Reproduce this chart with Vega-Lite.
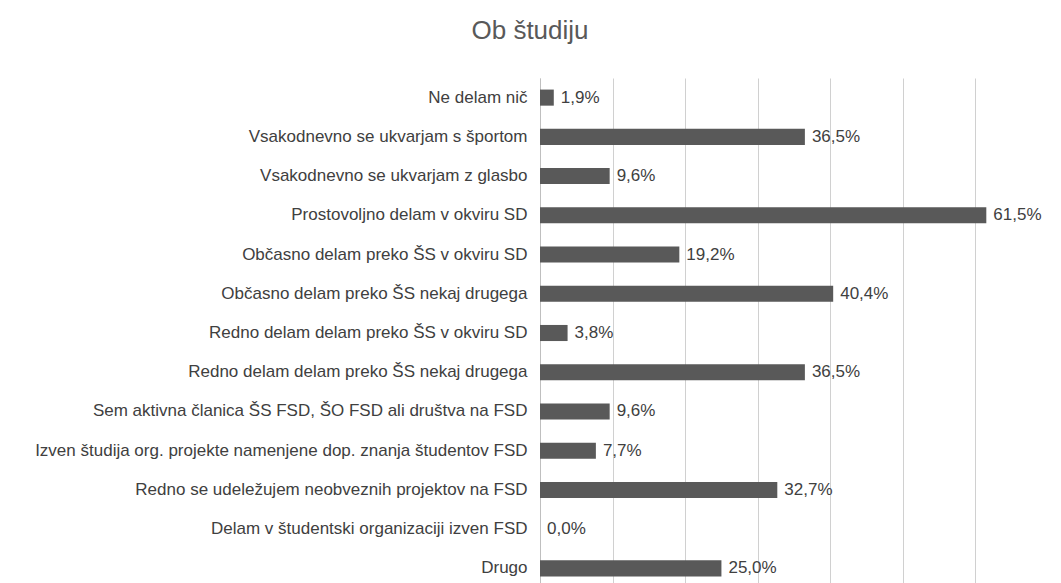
{
  "$schema": "https://vega.github.io/schema/vega-lite/v6.json",
  "autosize": {"type": "none"},
  "padding": {"left": 540, "top": 78, "right": 0, "bottom": 0},
  "width": 508,
  "height": 510,
  "background": "white",
  "title": {
    "text": "Ob študiju",
    "anchor": "middle",
    "dx": -264,
    "offset": 34,
    "fontSize": 26,
    "fontWeight": "normal",
    "font": "Liberation Sans",
    "color": "#595959"
  },
  "data": {
    "values": [
      {"kategorija": "Ne delam nič", "delez": 1.9, "oznaka": "1,9%"},
      {"kategorija": "Vsakodnevno se ukvarjam s športom", "delez": 36.5, "oznaka": "36,5%"},
      {"kategorija": "Vsakodnevno se ukvarjam z glasbo", "delez": 9.6, "oznaka": "9,6%"},
      {"kategorija": "Prostovoljno delam v okviru SD", "delez": 61.5, "oznaka": "61,5%"},
      {"kategorija": "Občasno delam preko ŠS v okviru SD", "delez": 19.2, "oznaka": "19,2%"},
      {"kategorija": "Občasno delam preko ŠS nekaj drugega", "delez": 40.4, "oznaka": "40,4%"},
      {"kategorija": "Redno delam delam preko ŠS v okviru SD", "delez": 3.8, "oznaka": "3,8%"},
      {"kategorija": "Redno delam delam preko ŠS nekaj drugega", "delez": 36.5, "oznaka": "36,5%"},
      {"kategorija": "Sem aktivna članica ŠS FSD, ŠO FSD ali društva na FSD", "delez": 9.6, "oznaka": "9,6%"},
      {"kategorija": "Izven študija org. projekte namenjene dop. znanja študentov FSD", "delez": 7.7, "oznaka": "7,7%"},
      {"kategorija": "Redno se udeležujem neobveznih projektov na FSD", "delez": 32.7, "oznaka": "32,7%"},
      {"kategorija": "Delam v študentski organizaciji izven FSD", "delez": 0.0, "oznaka": "0,0%"},
      {"kategorija": "Drugo", "delez": 25.0, "oznaka": "25,0%"}
    ]
  },
  "encoding": {
    "y": {
      "field": "kategorija",
      "type": "nominal",
      "sort": null,
      "scale": {"paddingInner": 0.59, "paddingOuter": 0.295},
      "axis": {
        "title": null,
        "ticks": false,
        "domain": true,
        "domainColor": "#bfbfbf",
        "labelFont": "Liberation Sans",
        "labelFontSize": 17,
        "labelColor": "#404040",
        "labelPadding": 13,
        "labelLimit": 600
      }
    },
    "x": {
      "field": "delez",
      "type": "quantitative",
      "scale": {"domain": [0, 70], "nice": false},
      "axis": {
        "title": null,
        "labels": false,
        "ticks": false,
        "domain": false,
        "values": [0, 10, 20, 30, 40, 50, 60, 70],
        "grid": true,
        "gridColor": "#d0d0d0",
        "gridWidth": 1
      }
    }
  },
  "layer": [
    {"mark": {"type": "bar", "color": "#595959"}},
    {
      "mark": {
        "type": "text",
        "align": "left",
        "baseline": "middle",
        "dx": 7,
        "font": "Liberation Sans",
        "fontSize": 17,
        "color": "#404040"
      },
      "encoding": {"text": {"field": "oznaka"}}
    }
  ],
  "config": {"view": {"stroke": null}}
}
